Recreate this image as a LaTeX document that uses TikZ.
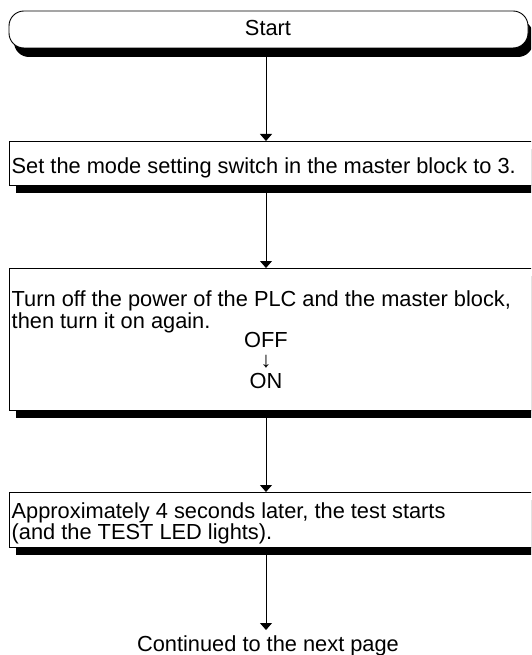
\documentclass[tikz,border=0pt]{standalone}
\usepackage{fontspec}
\setmainfont{Liberation Sans}
\usetikzlibrary{arrows.meta}
\begin{document}
\begin{tikzpicture}[x=1pt,y=-1pt,
  txt/.style={inner sep=0pt, font=\fontsize{21.8}{23}\selectfont},
  boxline/.style={draw=black, line width=0.9pt, fill=white, inner sep=0pt, outer sep=0pt},
  shadowed/.style={preaction={fill=black, transform canvas={shift={(#1)}}}},
  conn/.style={line width=0.9pt, -{Triangle[width=12pt,length=7pt]}},
]
\useasboundingbox (0,0) rectangle (531,655);
\clip (0,0) rectangle (531,655);
\coordinate (ax) at (266,0);

% Start terminal
\node[boxline, rounded corners=15pt, shadowed={5pt,-9pt},
      minimum width=519pt, minimum height=37pt] (start) at (268.5,29.5) {};
\node[txt, anchor=base] (starttxt) at (268,36) {Start};

% Box 2
\node[boxline, shadowed={7pt,-8pt}, minimum width=571pt, minimum height=44pt] (box2) at (294.5,163) {};
\node[txt, anchor=base west] (t2) at (11.5,173) {Set the mode setting switch in the master block to 3.};

% Box 3
\node[boxline, shadowed={7pt,-8pt}, minimum width=571pt, minimum height=142pt] (box3) at (294.5,339) {};
\node[txt, anchor=base west] (t3a) at (11.5,306) {Turn off the power of the PLC and the master block,};
\node[txt, anchor=base west] (t3b) at (11.5,328) {then turn it on again.};
\node[txt, anchor=base] (off) at (266,347) {OFF};
\node[txt, anchor=base] (dn) at (266,367) {↓};
\node[txt, anchor=base] (on) at (266,388) {ON};

% Box 4
\node[boxline, shadowed={7pt,-8pt}, minimum width=571pt, minimum height=55pt] (box4) at (294.5,519.5) {};
\node[txt, anchor=base west] (t4a) at (11.5,518) {Approximately 4 seconds later, the test starts};
\node[txt, anchor=base west] (t4b) at (11.5,539) {(and the TEST LED lights).};

% End text
\node[txt, anchor=base] (cont) at (268,651) {Continued to the next page};

% Connectors
\draw[conn] ([yshift=-9pt]start.south -| ax) -- (box2.north -| ax);
\draw[conn] ([yshift=-8pt]box2.south -| ax) -- (box3.north -| ax);
\draw[conn] ([yshift=-8pt]box3.south -| ax) -- (box4.north -| ax);
\draw[conn] ([yshift=-8pt]box4.south -| ax) -- ([yshift=5pt]cont.north -| ax);
\end{tikzpicture}
\end{document}
